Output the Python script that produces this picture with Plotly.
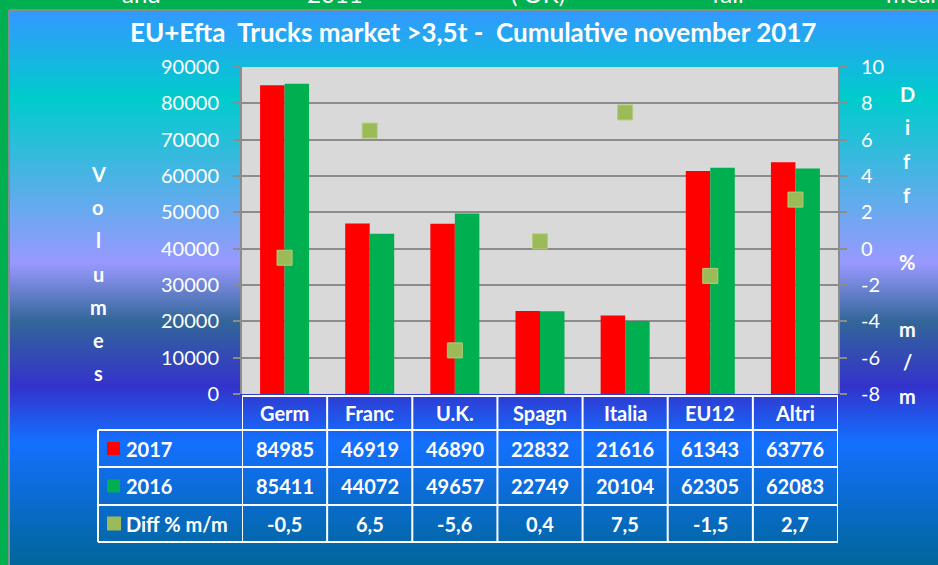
import base64
import struct
import zlib
import plotly.graph_objects as go

# ---------------- data ----------------
categories = ["Germ", "Franc", "U.K.", "Spagn", "Italia", "EU12", "Altri"]
vol_2017 = [84985, 46919, 46890, 22832, 21616, 61343, 63776]
vol_2016 = [85411, 44072, 49657, 22749, 20104, 62305, 62083]
diff_pct = [-0.5, 6.5, -5.6, 0.4, 7.5, -1.5, 2.7]
diff_labels = ["-0,5", "6,5", "-5,6", "0,4", "7,5", "-1,5", "2,7"]
row_labels = ["2017", "2016", "Diff % m/m"]
title_text = "EU+Efta  Trucks market >3,5t -  Cumulative november 2017"
left_axis_title = "Volumes"
right_axis_title = "Diff % m/m"
left_ticks = list(range(0, 90001, 10000))
right_ticks = list(range(-8, 11, 2))
top_fragments = ["and", "2011", "( OK)", "fall", "mean"]

# ---------------- geometry ----------------
W, H = 938, 565
PL, PR, PT, PB = 242, 838, 67, 394


def px(x):
    return (x - PL) / (PR - PL)


def py(y):
    return (PB - y) / (PB - PT)


CAT_W = (PR - PL) / len(categories)

RED = "#FF0000"
GREEN = "#00B050"
OLIVE = "#9BBB59"
GRID = "#8C8C8C"
FONT = "Lato"

# ---------------- gradient background image ----------------
stops = [(11, (51, 153, 255)), (97, (0, 204, 204)), (262, (153, 153, 255)),
         (320, (51, 102, 153)), (385, (51, 51, 204)), (440, (20, 112, 255)),
         (565, (0, 102, 153))]


def color_at(y):
    for (y0, c0), (y1, c1) in zip(stops[:-1], stops[1:]):
        if y <= y1:
            t = max(0.0, min(1.0, (y - y0) / (y1 - y0)))
            return tuple(int(round(a + (b - a) * t)) for a, b in zip(c0, c1))
    return stops[-1][1]


def png_chunk(tag, data):
    return struct.pack(">I", len(data)) + tag + data + struct.pack(">I", zlib.crc32(tag + data) & 0xFFFFFFFF)


GY0 = 11
gh = H - GY0
raw = b"".join(b"\x00" + bytes(color_at(GY0 + i + 0.5)) * 2 for i in range(gh))
png = (b"\x89PNG\r\n\x1a\n" + png_chunk(b"IHDR", struct.pack(">IIBBBBB", 2, gh, 8, 2, 0, 0, 0))
       + png_chunk(b"IDAT", zlib.compress(raw)) + png_chunk(b"IEND", b""))
grad_uri = "data:image/png;base64," + base64.b64encode(png).decode()

# ---------------- traces ----------------
fig = go.Figure()
fig.add_trace(go.Bar(x=categories, y=vol_2017, name="2017", marker_color=RED,
                     marker_line_width=0, hoverinfo="skip"))
fig.add_trace(go.Bar(x=categories, y=vol_2016, name="2016", marker_color=GREEN,
                     marker_line_width=0, hoverinfo="skip"))
fig.add_trace(go.Scatter(x=categories, y=diff_pct, yaxis="y2", mode="markers",
                         name="Diff % m/m", cliponaxis=False, hoverinfo="skip",
                         marker=dict(symbol="square", size=15, color=OLIVE,
                                     line=dict(width=1, color="#B3CC7A"))))

shapes = []
annotations = []

# plot area background
shapes.append(dict(type="rect", xref="paper", yref="paper", x0=0, x1=1, y0=0, y1=1,
                   fillcolor="#D9D9D9", line_width=0, layer="below"))
# grey border between green frame and gradient
shapes.append(dict(type="line", xref="paper", yref="paper", x0=px(9), x1=px(940),
                   y0=py(10), y1=py(10), line=dict(color="#7F8F8F", width=2), layer="below"))
shapes.append(dict(type="line", xref="paper", yref="paper", x0=px(9), x1=px(9),
                   y0=py(10), y1=py(566), line=dict(color="#7F8F8F", width=2), layer="below"))

# ---------------- table ----------------
row_edges = [396, 430, 467, 505, 542]
label_left = px(98)
LINE = dict(color="white", width=2)
shapes.append(dict(type="line", xref="x", yref="paper", x0=-0.5, x1=len(categories) - 0.5,
                   y0=py(row_edges[0]), y1=py(row_edges[0]), line=LINE))
for ye in row_edges[1:]:
    shapes.append(dict(type="line", xref="paper", yref="paper", x0=label_left, x1=1,
                       y0=py(ye), y1=py(ye), line=LINE))
shapes.append(dict(type="line", xref="paper", yref="paper", x0=label_left, x1=label_left,
                   y0=py(row_edges[1]), y1=py(row_edges[-1]), line=LINE))
for i in range(len(categories) + 1):
    shapes.append(dict(type="line", xref="x", yref="paper", x0=i - 0.5, x1=i - 0.5,
                       y0=py(row_edges[0]), y1=py(row_edges[-1]), line=LINE))

row_centers = [(a + b) / 2 for a, b in zip(row_edges[:-1], row_edges[1:])]
cell_font = dict(family=FONT, size=20, color="white")
bold = lambda s: "<b>" + s + "</b>"
for c in categories:
    annotations.append(dict(x=c, y=py(row_centers[0]), xref="x", yref="paper", text=bold(c),
                            showarrow=False, font=cell_font, xanchor="center", yanchor="middle"))
rows = [[str(v) for v in vol_2017], [str(v) for v in vol_2016], diff_labels]
for r, vals in enumerate(rows):
    for c, v in zip(categories, vals):
        annotations.append(dict(x=c, y=py(row_centers[r + 1]), xref="x", yref="paper", text=bold(v),
                                showarrow=False, font=cell_font, xanchor="center", yanchor="middle"))
key_colors = [RED, GREEN, OLIVE]
key_sizes = [13, 13, 14]
for r, (lab, kc, ks) in enumerate(zip(row_labels, key_colors, key_sizes)):
    yc = row_centers[r + 1]
    shapes.append(dict(type="rect", xref="paper", yref="paper", x0=px(107), x1=px(107 + ks),
                       y0=py(yc + ks / 2), y1=py(yc - ks / 2), fillcolor=kc, line_width=0))
    annotations.append(dict(x=px(124), y=py(yc), xref="paper", yref="paper", text=bold(lab),
                            showarrow=False, font=cell_font, xanchor="left", yanchor="middle"))

# ---------------- vertical axis titles (stacked letters) ----------------
letter_font = dict(family=FONT, size=20, color="white")
for k, ch in enumerate(left_axis_title):
    if ch.strip():
        annotations.append(dict(x=px(98), y=py(174 + 33.2 * k), xref="paper", yref="paper",
                                text=bold(ch), showarrow=False, font=letter_font,
                                xanchor="center", yanchor="middle"))
for k, ch in enumerate(right_axis_title):
    if ch.strip():
        annotations.append(dict(x=px(907), y=py(94 + 33.5 * k), xref="paper", yref="paper",
                                text=bold(ch), showarrow=False, font=letter_font,
                                xanchor="center", yanchor="middle"))

# ---------------- title & cut-off text at top ----------------
annotations.append(dict(x=px(473), y=py(32), xref="paper", yref="paper", text=bold(title_text),
                        showarrow=False, font=dict(family=FONT, size=26, color="white"),
                        xanchor="center", yanchor="middle"))
for frag, xc in zip(top_fragments, [141, 335, 538, 728, 915]):
    annotations.append(dict(x=px(xc), y=py(-6.5), xref="paper", yref="paper", text=frag,
                            showarrow=False, font=dict(family=FONT, size=24, color="white"),
                            xanchor="center", yanchor="middle"))

# ---------------- layout ----------------
fig.update_layout(
    width=W, height=H,
    margin=dict(l=PL, r=W - PR, t=PT, b=H - PB, pad=0),
    paper_bgcolor="#00B050",
    plot_bgcolor="#D9D9D9",
    showlegend=False,
    barmode="group",
    bargap=1 - 49 / CAT_W,
    bargroupgap=0,
    font=dict(family=FONT, color="white"),
    xaxis=dict(range=[-0.5, len(categories) - 0.5], showticklabels=False, showgrid=False,
               zeroline=False, showline=False, ticks=""),
    yaxis=dict(range=[0, 90000], tickvals=left_ticks, ticktext=[str(t) for t in left_ticks],
               showgrid=True, gridcolor=GRID, gridwidth=2, zeroline=False,
               showline=True, linecolor=GRID, linewidth=2, ticks="outside", ticklen=7,
               tickwidth=2, tickcolor=GRID, tickfont=dict(family=FONT, size=20, color="white"),
               ticklabelstandoff=10),
    yaxis2=dict(range=[-8, 10], tickvals=right_ticks, ticktext=[str(t) for t in right_ticks],
                overlaying="y", side="right", showgrid=False, zeroline=False,
                showline=True, linecolor=GRID, linewidth=2, ticks="outside", ticklen=7,
                tickwidth=2, tickcolor=GRID, tickfont=dict(family=FONT, size=20, color="white"),
                ticklabelstandoff=10),
    images=[dict(source=grad_uri, xref="paper", yref="paper", x=px(10), y=py(GY0),
                 sizex=px(W + 2) - px(10), sizey=py(GY0) - py(H + 2), xanchor="left", yanchor="top",
                 sizing="stretch", layer="below")],
    shapes=shapes,
    annotations=annotations,
)

fig.write_html("out.html", config={"displayModeBar": False})
